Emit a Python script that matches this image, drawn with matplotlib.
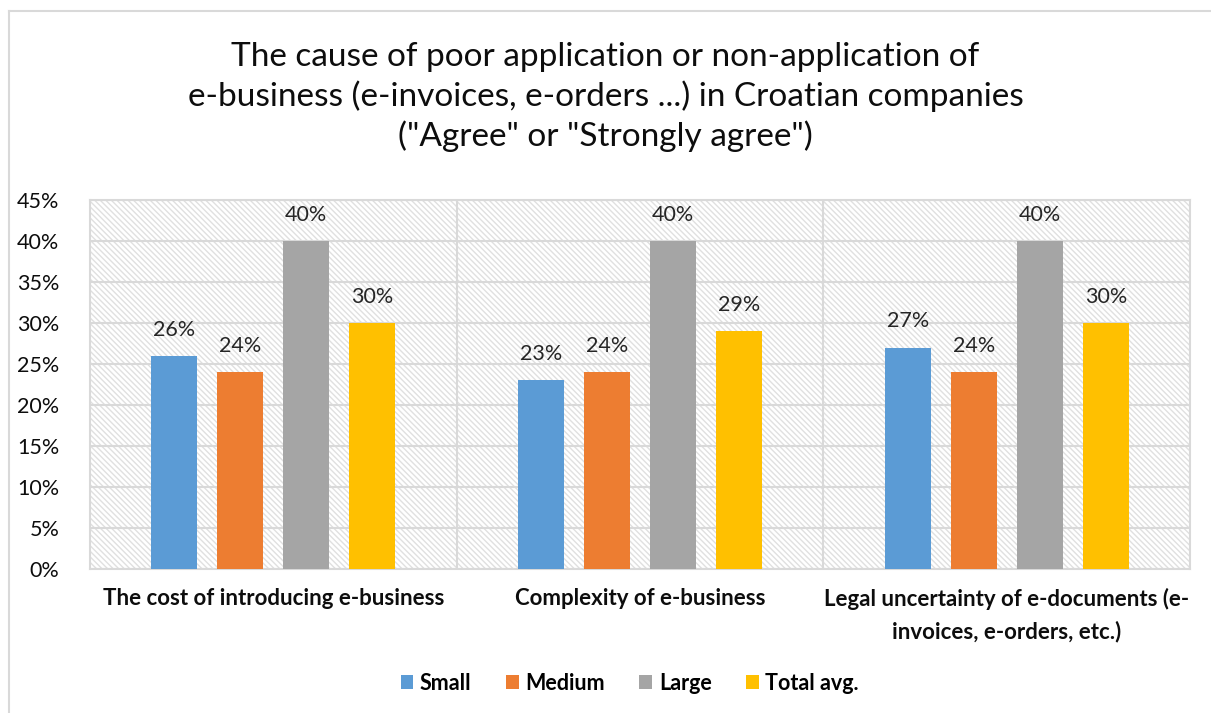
import matplotlib
matplotlib.use("Agg")
import matplotlib.pyplot as plt
from matplotlib.patches import Rectangle
from matplotlib.lines import Line2D
from matplotlib.ticker import MultipleLocator, FuncFormatter
import numpy as np

plt.rcParams['font.family'] = ['Lato', 'DejaVu Sans']
plt.rcParams['hatch.linewidth'] = 1.0

categories = ["The cost of introducing e-business",
              "Complexity of e-business",
              "Legal uncertainty of e-documents (e-\ninvoices, e-orders, etc.)"]
series = ["Small", "Medium", "Large", "Total avg."]
small = [26, 23, 27]
medium = [24, 24, 24]
large = [40, 40, 40]
total_avg = [30, 29, 30]
colors = ["#5B9BD5", "#ED7D31", "#A5A5A5", "#FFC000"]

values = [small, medium, large, total_avg]

fig = plt.figure(figsize=(12.11, 7.13), dpi=100)
ax = fig.add_axes([0.0743, 0.202, 0.9085, 0.5175])

grid_c = "#d9d9d9"

# hatched background of the plot area
ax.add_patch(Rectangle((0, 0), 1, 1, transform=ax.transAxes, fill=False,
                       hatch="\\\\\\\\\\\\", edgecolor="#e0e0e0", linewidth=0, zorder=0))

x = np.arange(len(categories))
step = 0.18
w = 0.126
for i, (name, vals, c) in enumerate(zip(series, values, colors)):
    pos = x + (i - 1.5) * step
    ax.bar(pos, vals, width=w, color=c, label=name, zorder=3)
    for p, v in zip(pos, vals):
        ax.text(p, v + 3.2, "{}%".format(v), ha="center", va="center",
                fontsize=15.5, color="#262626", zorder=4)

ax.set_xlim(-0.5, 2.5)
ax.set_ylim(0, 45)
ax.yaxis.set_major_locator(MultipleLocator(5))
ax.yaxis.set_major_formatter(FuncFormatter(lambda v, p: "{:.0f}%".format(v)))
ax.grid(axis="y", color=grid_c, linewidth=1.5, zorder=1)
for b in [0.5, 1.5]:
    ax.axvline(b, color=grid_c, linewidth=1.5, zorder=1)

ax.set_xticks(x)
ax.set_xticklabels(categories, fontsize=16, fontweight="bold", color="#0d0d0d",
                   va="top", linespacing=1.55)
ax.tick_params(axis="x", length=0, pad=14)
ax.tick_params(axis="y", length=0, pad=22, labelsize=15.5, labelcolor="#0d0d0d")
for s in ax.spines.values():
    s.set_color(grid_c)
    s.set_linewidth(1.5)

fig.suptitle("The cause of poor application or non-application of\n"
             "e-business (e-invoices, e-orders ...) in Croatian companies\n"
             "(\"Agree\" or \"Strongly agree\")",
             y=1 - 42 / 713, va="top", fontsize=24, linespacing=1.32, color="#0d0d0d")

leg = fig.legend(loc="center", bbox_to_anchor=(0.52, 0.042), ncol=4, frameon=False,
                 prop={"size": 15.5, "weight": "bold"}, handlelength=0.6, handleheight=0.6,
                 handletextpad=0.3, columnspacing=1.6)

# outer chart frame
fig.add_artist(Line2D([9 / 1211, 1], [1 - 11 / 713, 1 - 11 / 713], color="#d9d9d9",
                      linewidth=1.5, transform=fig.transFigure))
fig.add_artist(Line2D([9 / 1211, 9 / 1211], [0, 1 - 11 / 713], color="#d9d9d9",
                      linewidth=1.5, transform=fig.transFigure))

fig.savefig("out.png", dpi=100)
